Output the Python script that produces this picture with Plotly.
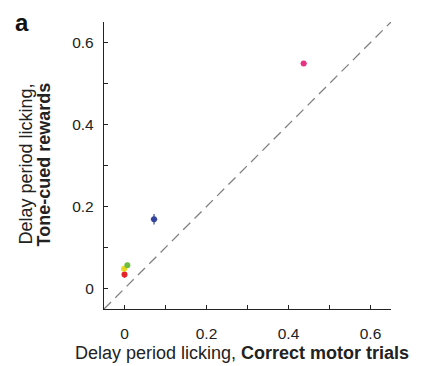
import plotly.graph_objects as go

# Data
names = ["red", "yellow", "green", "blue", "pink"]
motor = [0.0, -0.001, 0.007, 0.072, 0.437]
tone = [0.034, 0.048, 0.057, 0.169, 0.549]
err_x = [0.004, 0.004, 0.004, 0.008, 0.007]
err_y = [0.008, 0.006, 0.006, 0.013, 0.005]
colors = ["#e3242b", "#e8d81f", "#6cbf3f", "#33449c", "#e7337f"]
diag = [-0.05, 0.65]
ticks = [0, 0.1, 0.2, 0.3, 0.4, 0.5, 0.6]
tick_text = ["0", "", "0.2", "", "0.4", "", "0.6"]

fig = go.Figure()
fig.add_trace(go.Scatter(x=diag, y=diag, mode="lines",
                         line=dict(color="#808080", width=1.3, dash="10px,6px"),
                         hoverinfo="skip", showlegend=False))
for i in range(len(names)):
    fig.add_trace(go.Scatter(
        x=[motor[i]], y=[tone[i]], mode="markers",
        marker=dict(color=colors[i], size=6, line=dict(width=0)),
        error_x=dict(type="data", array=[err_x[i]], color=colors[i], thickness=1.2, width=0),
        error_y=dict(type="data", array=[err_y[i]], color=colors[i], thickness=1.2, width=0),
        showlegend=False, name=names[i]))

font = "Liberation Sans, Arial, sans-serif"
axis_common = dict(range=[-0.05, 0.65], tickvals=ticks, ticktext=tick_text,
                   ticks="inside", ticklen=4, tickwidth=1, tickcolor="#222",
                   showline=True, linecolor="#222", linewidth=1.3,
                   showgrid=False, zeroline=False, automargin=False,
                   tickfont=dict(family=font, size=15.5, color="#222"))
fig.update_xaxes(**axis_common, ticklabelstandoff=10)
fig.update_yaxes(**axis_common, ticklabelstandoff=6)

W, H, L, R, T, B = 414, 358, 96, 31, 14, 57
PW, PH = W - L - R, H - T - B

fig.update_layout(
    width=W, height=H,
    margin=dict(l=L, r=R, t=T, b=B),
    plot_bgcolor="white", paper_bgcolor="white",
    font=dict(family=font, color="#222"),
    annotations=[
        dict(text="<b>a</b>", xref="paper", yref="paper", x=-L / PW, y=1 + T / PH,
             xanchor="left", yanchor="top", xshift=6, yshift=0, borderpad=0, showarrow=False,
             font=dict(size=24, family=font, color="#111")),
        dict(text="Delay period licking, <b>Correct motor trials</b>", xref="paper", yref="paper",
             x=0.5, y=0, xanchor="center", yanchor="middle", yshift=-44, xshift=-6,
             showarrow=False, font=dict(size=18, family=font, color="#222")),
        dict(text="Delay period licking,", xref="paper", yref="paper",
             x=0, y=0.5, xanchor="center", yanchor="middle", xshift=-79, yshift=1,
             textangle=-90, showarrow=False, font=dict(size=18, family=font, color="#222")),
        dict(text="<b>Tone-cued rewards</b>", xref="paper", yref="paper",
             x=0, y=0.5, xanchor="center", yanchor="middle", xshift=-61, yshift=1,
             textangle=-90, showarrow=False, font=dict(size=18, family=font, color="#222")),
    ],
)
fig.write_html("out.html")
